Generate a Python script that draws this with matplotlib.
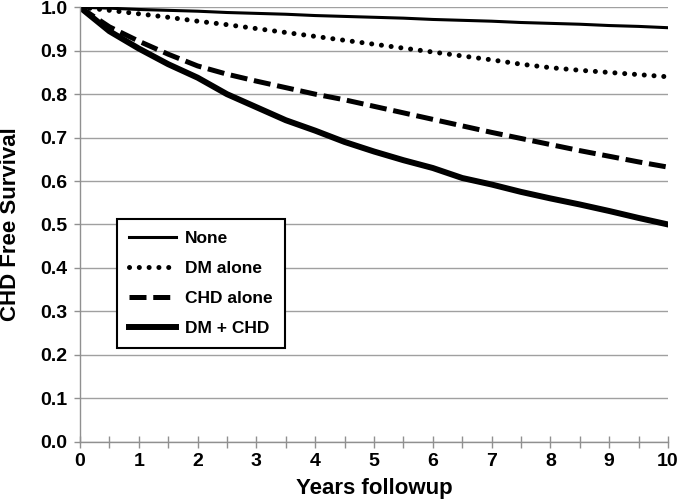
import matplotlib
matplotlib.use("Agg")
import matplotlib.pyplot as plt
import numpy as np

# ---------------------------------------------------------------------------
# Data (half-year steps)
# ---------------------------------------------------------------------------

years = [0, 0.5, 1, 1.5, 2, 2.5, 3, 3.5, 4, 4.5, 5,
         5.5, 6, 6.5, 7, 7.5, 8, 8.5, 9, 9.5, 10]

none = [1.000, 0.998, 0.995, 0.993, 0.991, 0.988, 0.986, 0.984, 0.981, 0.979, 0.977,
        0.975, 0.972, 0.970, 0.968, 0.965, 0.963, 0.961, 0.958, 0.956, 0.953]
dm_alone = [1.000, 0.993, 0.985, 0.977, 0.968, 0.960, 0.951, 0.942, 0.933, 0.924, 0.915,
            0.906, 0.897, 0.888, 0.879, 0.869, 0.861, 0.855, 0.850, 0.845, 0.840]
chd_alone = [1.000, 0.955, 0.922, 0.892, 0.865, 0.846, 0.830, 0.815, 0.800, 0.787, 0.772,
             0.757, 0.742, 0.727, 0.712, 0.698, 0.684, 0.670, 0.657, 0.644, 0.632]
dm_chd = [1.000, 0.945, 0.905, 0.869, 0.838, 0.800, 0.770, 0.740, 0.716, 0.690, 0.668,
          0.648, 0.630, 0.607, 0.592, 0.575, 0.560, 0.546, 0.531, 0.515, 0.500]

labels = ["None", "DM alone", "CHD alone", "DM + CHD"]

# ---------------------------------------------------------------------------
# Figure
# ---------------------------------------------------------------------------

plt.rcParams["font.family"] = ["Liberation Sans", "DejaVu Sans"]
plt.rcParams["font.weight"] = "bold"

fig = plt.figure(figsize=(6.79, 5.03), dpi=100)
ax = fig.add_axes([0.1178, 0.122, 0.866, 0.8635])

ax.plot(years, none, color="black", lw=2.2, label=labels[0])
ax.plot(years, dm_alone, color="black", lw=3.6, linestyle=(0, (0.01, 1.95)),
        dash_capstyle="round", label=labels[1])
ax.plot(years, chd_alone, color="black", lw=3.6, linestyle=(0, (3.4, 1.35)),
        dash_capstyle="butt", label=labels[2])
ax.plot(years, dm_chd, color="black", lw=4.3, label=labels[3])

ax.set_xlim(0, 10)
ax.set_ylim(0, 1.0)
ax.set_xticks(np.arange(0, 11, 1))
ax.set_xticks(np.arange(0, 10.5, 0.5), minor=True)
ax.set_yticks(np.arange(0, 1.01, 0.1))
ax.set_yticklabels([f"{v:.1f}" for v in np.arange(0, 1.01, 0.1)])

ax.grid(axis="y", color="#a0a0a0", lw=1.0)
ax.set_axisbelow(True)
for s in ["top", "right"]:
    ax.spines[s].set_visible(False)
for s in ["left", "bottom"]:
    ax.spines[s].set_color("#909090")
    ax.spines[s].set_linewidth(1.0)

ax.tick_params(axis="x", which="both", direction="inout", length=8, width=1.0,
               color="#909090", labelsize=14, pad=4)
ax.tick_params(axis="y", direction="out", length=4, width=1.0,
               color="#909090", labelsize=14, pad=5)

ax.set_xlabel("Years followup", fontsize=16, fontweight="bold", labelpad=6)
ax.set_ylabel("CHD Free Survival", fontsize=16, fontweight="bold", labelpad=14)

leg = ax.legend(loc="lower left", bbox_to_anchor=(0.063, 0.215), borderaxespad=0,
                fontsize=12.5, handlelength=2.7, labelspacing=0.85, handletextpad=0.5,
                borderpad=0.7, fancybox=False, framealpha=1.0, edgecolor="black")
leg.get_frame().set_linewidth(1.5)
for t in leg.get_texts():
    t.set_fontweight("bold")

plt.savefig("out.png", dpi=100)
